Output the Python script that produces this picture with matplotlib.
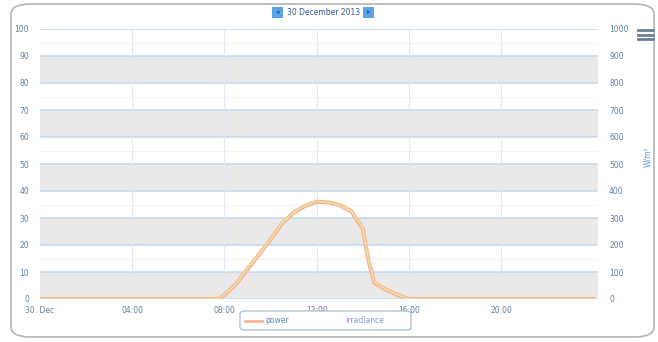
import matplotlib
matplotlib.use("Agg")
import matplotlib.pyplot as plt
from matplotlib.patches import FancyBboxPatch, Rectangle
from matplotlib.lines import Line2D

# ---- data ----
hours = [0, 4, 7.75, 8.0, 8.5, 9.0, 9.5, 10.0, 10.5, 11.0, 11.5, 12.0, 12.5,
         13.0, 13.5, 14.0, 14.25, 14.5, 15.0, 15.5, 16.0, 20, 24]
power = [0, 0, 0, 1.5, 5.5, 11, 16.5, 22, 28, 32, 34.5, 36, 35.8,
         34.8, 32.5, 26, 14, 6, 3.5, 1.5, 0, 0, 0]
irradiance = [0, 0, 0, 16, 56, 112, 166, 222, 282, 320, 347, 362, 358,
              348, 326, 264, 142, 62, 36, 16, 0, 0, 0]
x_ticks = [0, 4, 8, 12, 16, 20]
x_labels = ["30. Dec", "04:00", "08:00", "12:00", "16:00", "20:00"]
left_ticks = list(range(0, 101, 10))
right_ticks = list(range(0, 1001, 100))
title = "30 December 2013"

W, H = 658, 342
fig = plt.figure(figsize=(W / 100, H / 100), dpi=100)
fig.patch.set_facecolor("white")

def fx(px):
    return px / W

def fy(py):
    return 1 - py / H

# outer rounded border
border = FancyBboxPatch((fx(11), fy(337)), fx(643), (333) / H,
                        boxstyle="round,pad=0,rounding_size=0.03",
                        transform=fig.transFigure, fill=False,
                        edgecolor="#b5b5b5", linewidth=1.2)
fig.add_artist(border)

ax = fig.add_axes([fx(40), fy(299), fx(598) - fx(40), (299 - 29) / H])
ax.set_xlim(0, 24.2)
ax.set_ylim(0, 100)
ax.set_facecolor("white")
for s in ax.spines.values():
    s.set_visible(False)

# plot bands
for lo in range(0, 100, 20):
    ax.axhspan(lo, lo + 10, color="#e9e9e9", zorder=0, lw=0)
# grid lines
for v in left_ticks:
    ax.axhline(v, color="#c2d9ee", lw=1.1, zorder=1)
for v in left_ticks[:-1]:
    ax.axhline(v + 5, color="#f7e6dc", lw=0.4, zorder=1)
for t in x_ticks[1:]:
    ax.axvline(t, color="#dfe9f3", lw=0.8, zorder=1)

ax.plot(hours, power, color="#f6b894", lw=3.0, zorder=4, solid_capstyle="round",
        solid_joinstyle="round")

ax2 = ax.twinx()
ax2.set_ylim(0, 1000)
for s in ax2.spines.values():
    s.set_visible(False)
ax2.plot(hours, irradiance, color="#f1e3a8", lw=1.0, zorder=3)

ax.set_xticks(x_ticks)
ax.set_xticklabels(x_labels)
ax.set_yticks(left_ticks)
ax2.set_yticks(right_ticks)
ax.tick_params(axis="x", length=0, pad=5, labelsize=5.5, labelcolor="#62809f")
ax.tick_params(axis="y", length=0, pad=8, labelsize=5.5, labelcolor="#62809f")
ax2.tick_params(axis="y", length=0, pad=8, labelsize=5.5, labelcolor="#62809f")
for lab in ax2.get_yticklabels():
    lab.set_horizontalalignment("left")

# right axis title
fig.text(fx(648), fy(157), "W/m²", rotation=90, ha="center", va="center",
         fontsize=5.5, color="#5b9bd5")

# title with buttons
for bx in (272, 363):
    fig.add_artist(Rectangle((fx(bx), fy(18)), fx(11), 11 / H,
                             transform=fig.transFigure, facecolor="#5aa5e6",
                             edgecolor="none"))
fig.text(fx(277.5), fy(12.5), "◂", ha="center", va="center", fontsize=5,
         color="#1f5fa8")
fig.text(fx(368.5), fy(12.5), "▸", ha="center", va="center", fontsize=5,
         color="#1f5fa8")
fig.text(fx(323.5), fy(12.5), title, ha="center", va="center",
         fontsize=5.5, color="#34568a")

# hamburger menu
for yy in (30, 34.5, 39):
    fig.add_artist(Line2D([fx(638), fx(653)], [fy(yy), fy(yy)],
                          transform=fig.transFigure, color="#6d7f95", lw=2.0))

# legend
leg = FancyBboxPatch((fx(240), fy(330)), fx(171), 19 / H,
                     boxstyle="round,pad=0,rounding_size=0.008",
                     transform=fig.transFigure, facecolor="white",
                     edgecolor="#a9bcd3", linewidth=0.9)
fig.add_artist(leg)
fig.add_artist(Line2D([fx(245), fx(262)], [fy(320.5), fy(320.5)],
                      transform=fig.transFigure, color="#f6b894", lw=2))
fig.text(fx(265), fy(320.5), "power", ha="left", va="center", fontsize=5.5,
         color="#5f86c0")
fig.text(fx(345), fy(320.5), "irradiance", ha="left", va="center",
         fontsize=5.5, color="#7d9ccc")

fig.savefig("out.png", dpi=100)
